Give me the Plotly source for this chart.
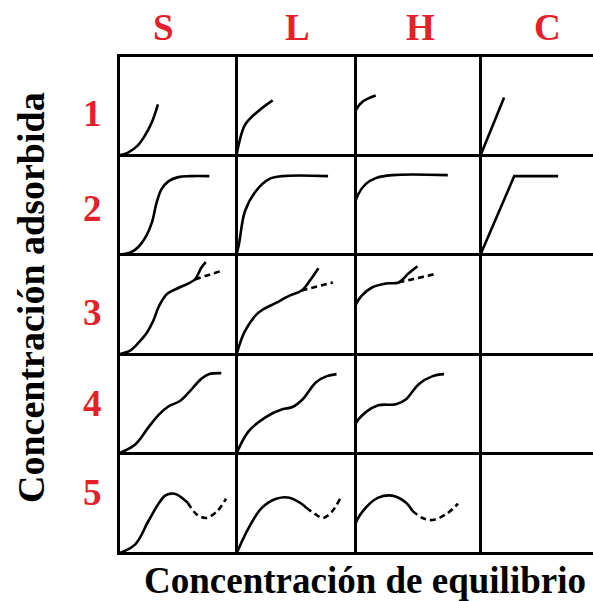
import plotly.graph_objects as go

W, H = 593, 601

# Column / row labels
col_labels = ["S", "L", "H", "C"]
row_labels = ["1", "2", "3", "4", "5"]

# Grid boundaries in pixels
col_edges = [120, 238, 357, 482, 593]
row_edges = [57, 154, 253, 353, 452, 552]

# Label positions (pixels)
col_label_x = [163, 297, 420, 547]
row_label_y = [113, 208, 312, 403, 492]

# Isotherm shapes, in relative units of each cell (0..1)
S1_x = [0, 0.08, 0.16, 0.22, 0.28, 0.33]
S1_y = [0, 0.03, 0.10, 0.20, 0.34, 0.52]
L1_x = [0, 0.02, 0.07, 0.18, 0.30]
L1_y = [0, 0.12, 0.31, 0.45, 0.56]
H1_x = [0, 0, 0.06, 0.16]
H1_y = [0, 0.45, 0.55, 0.61]
C1_x = [0, 0.21]
C1_y = [0, 0.59]

S2_x = [0, 0.10, 0.17, 0.23, 0.28, 0.32, 0.36, 0.42, 0.50, 0.60, 0.76]
S2_y = [0, 0.02, 0.08, 0.18, 0.32, 0.52, 0.65, 0.73, 0.77, 0.78, 0.78]
L2_x = [0, 0.02, 0.07, 0.16, 0.27, 0.38, 0.76]
L2_y = [0, 0.10, 0.43, 0.63, 0.75, 0.78, 0.78]
H2_x = [0, 0, 0.08, 0.16, 0.29, 0.73]
H2_y = [0, 0.53, 0.70, 0.76, 0.79, 0.79]
C2_x = [0, 0.30, 0.69]
C2_y = [0, 0.78, 0.78]

S3_x = [0, 0.10, 0.17, 0.24, 0.29, 0.34, 0.41, 0.51, 0.64, 0.69, 0.73]
S3_y = [0, 0.04, 0.12, 0.22, 0.33, 0.48, 0.60, 0.66, 0.74, 0.85, 0.91]
S3_dash_x = [0.64, 0.85]
S3_dash_y = [0.74, 0.82]
L3_x = [0, 0.07, 0.18, 0.33, 0.44, 0.54, 0.61, 0.68]
L3_y = [0, 0.23, 0.41, 0.51, 0.58, 0.63, 0.73, 0.85]
L3_dash_x = [0.54, 0.80]
L3_dash_y = [0.63, 0.71]
H3_x = [0, 0, 0.05, 0.13, 0.24, 0.34, 0.42, 0.49]
H3_y = [0, 0.48, 0.58, 0.66, 0.70, 0.71, 0.80, 0.87]
H3_dash_x = [0.34, 0.62]
H3_dash_y = [0.71, 0.79]

S4_x = [0, 0.14, 0.25, 0.34, 0.42, 0.51, 0.59, 0.69, 0.76, 0.86]
S4_y = [0, 0.09, 0.26, 0.39, 0.47, 0.52, 0.61, 0.74, 0.79, 0.80]
L4_x = [0, 0.10, 0.24, 0.38, 0.46, 0.55, 0.66, 0.75, 0.83]
L4_y = [0, 0.22, 0.36, 0.44, 0.46, 0.54, 0.71, 0.77, 0.79]
H4_x = [0, 0, 0.08, 0.18, 0.32, 0.40, 0.50, 0.61, 0.70]
H4_y = [0, 0.29, 0.41, 0.48, 0.49, 0.54, 0.69, 0.77, 0.79]

S5_x = [0, 0.14, 0.25, 0.34, 0.39, 0.44, 0.49, 0.54, 0.58]
S5_y = [0, 0.09, 0.32, 0.50, 0.57, 0.59, 0.58, 0.54, 0.50]
S5_dash_x = [0.58, 0.65, 0.73, 0.82, 0.90]
S5_dash_y = [0.50, 0.39, 0.35, 0.41, 0.54]
L5_x = [0, 0.10, 0.21, 0.33, 0.44, 0.54, 0.58]
L5_y = [0, 0.25, 0.45, 0.54, 0.55, 0.49, 0.45]
L5_dash_x = [0.58, 0.65, 0.72, 0.79, 0.86]
L5_dash_y = [0.45, 0.39, 0.35, 0.41, 0.54]
H5_x = [0, 0, 0.08, 0.18, 0.29, 0.40, 0.45]
H5_y = [0, 0.29, 0.45, 0.55, 0.57, 0.50, 0.42]
H5_dash_x = [0.45, 0.53, 0.61, 0.72, 0.81]
H5_dash_y = [0.42, 0.35, 0.33, 0.39, 0.49]

# (row, col, solid curve, dashed curve, spline?)
cells = [
    (0, 0, (S1_x, S1_y), None, True),
    (0, 1, (L1_x, L1_y), None, True),
    (0, 2, (H1_x, H1_y), None, True),
    (0, 3, (C1_x, C1_y), None, False),
    (1, 0, (S2_x, S2_y), None, True),
    (1, 1, (L2_x, L2_y), None, True),
    (1, 2, (H2_x, H2_y), None, True),
    (1, 3, (C2_x, C2_y), None, False),
    (2, 0, (S3_x, S3_y), (S3_dash_x, S3_dash_y), True),
    (2, 1, (L3_x, L3_y), (L3_dash_x, L3_dash_y), True),
    (2, 2, (H3_x, H3_y), (H3_dash_x, H3_dash_y), True),
    (2, 3, None, None, True),
    (3, 0, (S4_x, S4_y), None, True),
    (3, 1, (L4_x, L4_y), None, True),
    (3, 2, (H4_x, H4_y), None, True),
    (3, 3, None, None, True),
    (4, 0, (S5_x, S5_y), (S5_dash_x, S5_dash_y), True),
    (4, 1, (L5_x, L5_y), (L5_dash_x, L5_dash_y), True),
    (4, 2, (H5_x, H5_y), (H5_dash_x, H5_dash_y), True),
    (4, 3, None, None, True),
]

RED = "#e3212b"
LINE_W = 2.6
GRID_W = 3

fig = go.Figure()
layout = {}

for i, (r, c, solid, dashed, smooth) in enumerate(cells):
    n = i + 1
    xa = "x" if n == 1 else f"x{n}"
    ya = "y" if n == 1 else f"y{n}"
    xkey = "xaxis" if n == 1 else f"xaxis{n}"
    ykey = "yaxis" if n == 1 else f"yaxis{n}"
    wpx = col_edges[c + 1] - col_edges[c]
    hpx = row_edges[r + 1] - row_edges[r]
    x0, x1 = col_edges[c] / W, col_edges[c + 1] / W
    y0, y1 = 1 - row_edges[r + 1] / H, 1 - row_edges[r] / H
    # axis lines sit half a line width outside the plot area; start the
    # ranges a touch above zero so the origin lands on the line centres
    ax = (GRID_W / 2) / (wpx + GRID_W / 2)
    ay = (GRID_W / 2) / (hpx + GRID_W / 2)
    # bottom + left borders per cell; the top row also draws the top edge
    layout[xkey] = dict(domain=[x0, x1], range=[ax, 1], anchor=ya,
                        showline=True, mirror=(r == 0), linecolor="black",
                        linewidth=GRID_W, showgrid=False, zeroline=False,
                        showticklabels=False, ticks="", fixedrange=True)
    layout[ykey] = dict(domain=[y0, y1], range=[ay, 1], anchor=xa,
                        showline=True, mirror=False, linecolor="black",
                        linewidth=GRID_W, showgrid=False, zeroline=False,
                        showticklabels=False, ticks="", fixedrange=True)
    shape = "spline" if smooth else "linear"
    if solid is None:
        # empty cell: an invisible trace keeps its axes drawn
        fig.add_trace(go.Scatter(x=[None], y=[None], mode="lines",
                                 xaxis=xa, yaxis=ya, showlegend=False,
                                 hoverinfo="skip"))
    else:
        fig.add_trace(go.Scatter(x=solid[0], y=solid[1], mode="lines",
                                 line=dict(color="black", width=LINE_W,
                                           shape=shape),
                                 xaxis=xa, yaxis=ya, showlegend=False,
                                 hoverinfo="skip", cliponaxis=False))
    if dashed is not None:
        fig.add_trace(go.Scatter(x=dashed[0], y=dashed[1], mode="lines",
                                 line=dict(color="black", width=LINE_W,
                                           shape="spline", dash="6px,4px"),
                                 xaxis=xa, yaxis=ya, showlegend=False,
                                 hoverinfo="skip", cliponaxis=False))

annotations = []
for lab, px in zip(col_labels, col_label_x):
    annotations.append(dict(text=lab, x=px / W, y=1 - 28 / H, xref="paper",
                            yref="paper", xanchor="center", yanchor="middle",
                            showarrow=False,
                            font=dict(family="Liberation Serif", size=37,
                                      color=RED, weight="bold")))
for lab, py in zip(row_labels, row_label_y):
    annotations.append(dict(text=lab, x=92 / W, y=1 - py / H, xref="paper",
                            yref="paper", xanchor="center", yanchor="middle",
                            showarrow=False,
                            font=dict(family="Liberation Serif", size=37,
                                      color=RED, weight="bold")))

annotations.append(dict(text="Concentración adsorbida", x=31 / W,
                        y=1 - 298 / H, xref="paper", yref="paper",
                        xanchor="center", yanchor="middle", textangle=-90,
                        showarrow=False,
                        font=dict(family="Liberation Serif", size=38,
                                  color="black", weight="bold")))
annotations.append(dict(text="Concentración de equilibrio", x=365 / W,
                        y=1 - 580 / H, xref="paper", yref="paper",
                        xanchor="center", yanchor="middle", showarrow=False,
                        font=dict(family="Liberation Serif", size=37,
                                  color="black", weight="bold")))

fig.update_layout(**layout)
fig.update_layout(width=W, height=H, margin=dict(l=0, r=0, t=0, b=0),
                  paper_bgcolor="white", plot_bgcolor="white",
                  annotations=annotations, showlegend=False)

fig.write_html("out.html", config={"displayModeBar": False})
